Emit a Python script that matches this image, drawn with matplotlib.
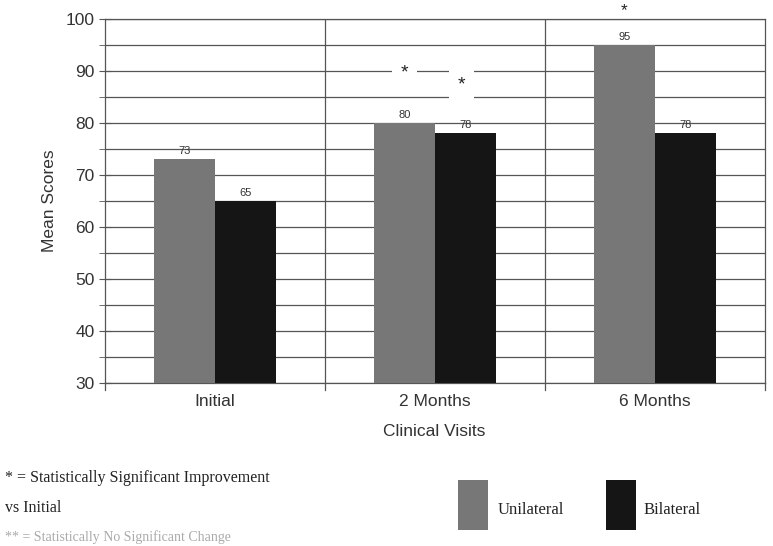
import matplotlib
matplotlib.use("Agg")
import matplotlib.pyplot as plt
import numpy as np
from matplotlib.patches import Rectangle

categories = ["Initial", "2 Months", "6 Months"]
unilateral = [73, 80, 95]
bilateral = [65, 78, 78]
uni_labels = ["73", "80", "95"]
bil_labels = ["65", "78", "78"]
# asterisk positions (series, category index, y value)
stars = [("uni", 1, 89.6), ("bil", 1, 87.3), ("uni", 2, 101.6)]

UNI_C = "#777777"
BIL_C = "#151515"

fig = plt.figure(figsize=(7.73, 5.46), dpi=100)
W, H = 773, 546
ax = fig.add_axes([105 / W, 1 - 383 / H, 660 / W, 364 / H])

x = np.arange(len(categories))
bw = 0.277
ax.bar(x - bw / 2, unilateral, bw, color=UNI_C, zorder=3, edgecolor="none")
ax.bar(x + bw / 2, bilateral, bw, color=BIL_C, zorder=3, edgecolor="none")

for i in range(len(categories)):
    ax.text(x[i] - bw / 2, unilateral[i] + 0.6, uni_labels[i], ha="center", va="bottom",
            fontsize=8, family="Liberation Sans", color="#333333", zorder=5)
    ax.text(x[i] + bw / 2, bilateral[i] + 0.6, bil_labels[i], ha="center", va="bottom",
            fontsize=8, family="Liberation Sans", color="#333333", zorder=5)

for s, i, yv in stars:
    xx = x[i] - bw / 2 if s == "uni" else x[i] + bw / 2 - 0.02
    inside = yv < 100
    ax.text(xx, yv, "*", ha="center", va="center", fontsize=14 if inside else 12.5,
            family="Liberation Sans", color="#222222", zorder=6,
            bbox=dict(boxstyle="square,pad=0.45", fc="white", ec="none") if inside else None,
            clip_on=False)

ax.set_xlim(-0.5, 2.5)
ax.set_ylim(30, 100)
ax.set_yticks(np.arange(30, 101, 10))
ax.set_yticks(np.arange(35, 100, 10), minor=True)
ax.yaxis.grid(True, which="both", color="#555555", lw=0.9, zorder=1)
for b in [0.5, 1.5]:
    ax.axvline(b, color="#555555", lw=0.9, zorder=1)

ax.set_xticks(x)
ax.set_xticklabels(categories, fontsize=12.5, family="Liberation Sans", color="#333333")
ax.tick_params(axis="x", length=0, pad=8)
for b in [-0.5, 0.5, 1.5, 2.5]:
    ax.plot([b, b], [30, 28.6], color="#555555", lw=0.9, clip_on=False)
ax.tick_params(axis="y", which="both", direction="inout", length=8, color="#555555",
               labelsize=12.5, labelcolor="#333333")
for lab in ax.get_yticklabels():
    lab.set_family("Liberation Sans")
ax.set_ylabel("Mean Scores", fontsize=12.5, family="Liberation Sans", color="#333333", labelpad=6)
for sp in ax.spines.values():
    sp.set_color("#555555")
    sp.set_linewidth(0.9)

fig.text(434 / W, 1 - 432 / H, "Clinical Visits", ha="center", va="center", fontsize=12.5,
         family="Liberation Sans", color="#333333")

fig.text(5 / W, 1 - 478 / H, "* = Statistically Significant Improvement", ha="left", va="center",
         fontsize=11.5, family="Liberation Serif", color="#222222")
fig.text(5 / W, 1 - 508 / H, "vs Initial", ha="left", va="center",
         fontsize=11.5, family="Liberation Serif", color="#222222")
fig.text(5 / W, 1 - 537 / H, "** = Statistically No Significant Change", ha="left", va="center",
         fontsize=10, family="Liberation Serif", color="#aaaaaa")

fig.patches.append(Rectangle((458 / W, 1 - 530 / H), 30 / W, 50 / H, transform=fig.transFigure,
                             fc=UNI_C, ec="none"))
fig.patches.append(Rectangle((606 / W, 1 - 530 / H), 30 / W, 50 / H, transform=fig.transFigure,
                             fc=BIL_C, ec="none"))
fig.text(498 / W, 1 - 510 / H, "Unilateral", ha="left", va="center", fontsize=12,
         family="Liberation Serif", color="#222222")
fig.text(644 / W, 1 - 510 / H, "Bilateral", ha="left", va="center", fontsize=12,
         family="Liberation Serif", color="#222222")

fig.savefig("out.png", dpi=100)
